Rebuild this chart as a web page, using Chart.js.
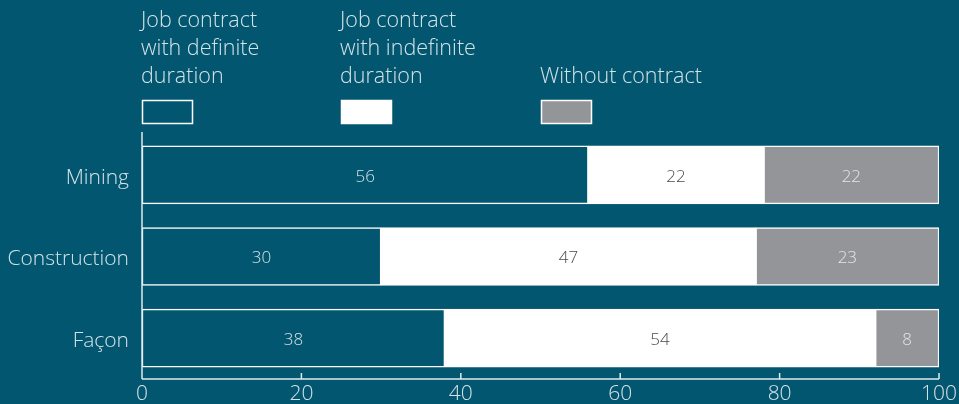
<!DOCTYPE html>
<html>
<head>
<meta charset="utf-8">
<script src="https://cdn.jsdelivr.net/npm/chart.js@4/dist/chart.umd.min.js"></script>
<style>
  html, body { margin: 0; padding: 0; background: #03566f; }
  #wrap { position: relative; width: 959px; height: 404px; }
</style>
</head>
<body>
<div id="wrap"><canvas id="contractChart" width="959" height="404"></canvas></div>
<script>
// sectors and share of workers by contract type (%)
const sectors = ["Mining", "Construction", "Façon"];
const definite = [56, 30, 38];
const indefinite = [22, 47, 54];
const noContract = [22, 23, 8];
const xTicks = [0, 20, 40, 60, 80, 100];

const seriesNames = [
  ["Job contract", "with definite", "duration"],
  ["Job contract", "with indefinite", "duration"],
  ["Without contract"]
];

const BG = "#03566f";
const GREY = "#939598";
const TEXT = "#d3e3e8";
const FONT = "'Open Sans', 'Noto Sans', sans-serif";

// legend drawn above the plot, one column per series
const legendPlugin = {
  id: "topLegend",
  afterDraw(chart) {
    const ctx = chart.ctx;
    const cols = [142, 341, 541];
    ctx.save();
    ctx.font = "300 21.5px " + FONT;
    ctx.textBaseline = "middle";
    chart.data.datasets.forEach((ds, i) => {
      const lines = ds.label;
      const x = cols[i];
      ctx.fillStyle = TEXT;
      lines.forEach((line, j) => {
        const row = 3 - lines.length + j;
        ctx.fillText(line, x - 1, 21 + row * 28);
      });
      ctx.fillStyle = ds.backgroundColor;
      ctx.fillRect(x, 100, 50, 23);
      ctx.strokeStyle = "#ffffff";
      ctx.lineWidth = 1.5;
      ctx.strokeRect(x + 0.5, 100.5, 50, 23);
    });
    ctx.restore();
  }
};

// value printed in the middle of each segment
const valueLabels = {
  id: "valueLabels",
  afterDatasetsDraw(chart) {
    const ctx = chart.ctx;
    const colors = [TEXT, "#4a4a4a", "#e6e6e6"];
    ctx.save();
    ctx.font = "300 17px " + FONT;
    ctx.textAlign = "center";
    ctx.textBaseline = "middle";
    chart.data.datasets.forEach((ds, i) => {
      chart.getDatasetMeta(i).data.forEach((bar, j) => {
        const p = bar.getProps(["x", "y", "base"], true);
        ctx.fillStyle = colors[i];
        ctx.fillText(String(ds.data[j]), (p.x + p.base) / 2, p.y + 2);
      });
    });
    ctx.restore();
  }
};

// axis lines with tick marks pointing into the plot
const axisLines = {
  id: "axisLines",
  afterDraw(chart) {
    const ctx = chart.ctx;
    const xs = chart.scales.x;
    const area = chart.chartArea;
    ctx.save();
    ctx.strokeStyle = "#dfe9ec";
    ctx.lineWidth = 1.5;
    ctx.beginPath();
    ctx.moveTo(area.left, area.bottom);
    ctx.lineTo(area.right, area.bottom);
    ctx.moveTo(area.left, area.top - 2);
    ctx.lineTo(area.left, area.bottom);
    xTicks.forEach(v => {
      const px = xs.getPixelForValue(v);
      ctx.moveTo(px, area.bottom);
      ctx.lineTo(px, area.bottom - 6);
    });
    ctx.stroke();
    ctx.restore();
  }
};

new Chart(document.getElementById("contractChart"), {
  type: "bar",
  data: {
    labels: sectors,
    datasets: [
      { label: seriesNames[0], data: definite, backgroundColor: BG },
      { label: seriesNames[1], data: indefinite, backgroundColor: "#ffffff" },
      { label: seriesNames[2], data: noContract, backgroundColor: GREY }
    ].map(d => Object.assign(d, {
      borderColor: "#ffffff",
      borderWidth: 1.5,
      borderSkipped: false,
      barThickness: 58
    }))
  },
  options: {
    indexAxis: "y",
    responsive: false,
    animation: false,
    layout: { padding: { top: 134, right: 18 } },
    plugins: { legend: { display: false }, tooltip: { enabled: false } },
    scales: {
      x: {
        stacked: true,
        min: 0,
        max: 100,
        afterBuildTicks(scale) { scale.ticks = xTicks.map(v => ({ value: v })); },
        afterFit(scale) { scale.height = 25; },
        grid: { display: false, drawTicks: false },
        border: { display: false },
        ticks: { color: TEXT, padding: 2, font: { family: FONT, size: 21, weight: 300 } }
      },
      y: {
        stacked: true,
        afterFit(scale) { scale.width = 142; },
        grid: { display: false },
        border: { display: false },
        ticks: { color: TEXT, padding: 5, labelOffset: 3, font: { family: FONT, size: 21, weight: 300 } }
      }
    }
  },
  plugins: [legendPlugin, valueLabels, axisLines]
});
</script>
</body>
</html>
